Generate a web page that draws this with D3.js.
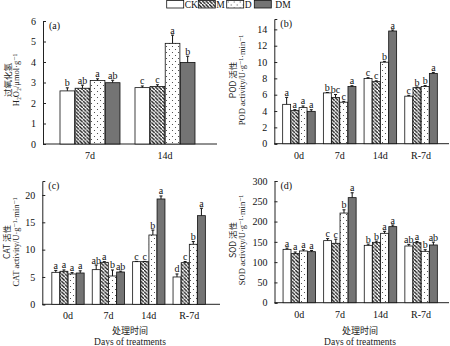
<!DOCTYPE html>
<html lang="en">
	<head>
		<meta charset="utf-8">
		<title>Antioxidant bar charts</title>
		<script type="text/javascript" src="https://cdn.jsdelivr.net/npm/d3@7"></script>
		<style type="text/css">
			body { margin: 0; background: #fff; }
			svg text { font-family: "Liberation Serif", "DejaVu Serif", serif; }
			.cn { font-family: "Noto Sans CJK SC", sans-serif; }
		</style>
	</head>
	<body>
		<script type="text/javascript">

			var w = 450;
			var h = 346;

			// treatments and sampling times
			var groups = ["CK", "M", "D", "DM"];
			var catsA = ["7d", "14d"];
			var cats = ["0d", "7d", "14d", "R-7d"];

			// (a) H2O2
			var h2o2 = [[2.59, 2.72, 3.10, 2.99], [2.75, 2.81, 4.91, 3.98]];
			var h2o2Err = [[0.15, 0.15, 0.08, 0.12], [0.08, 0.08, 0.40, 0.30]];
			var h2o2Sig = [["b", "ab", "a", "ab"], ["c", "c", "a", "b"]];

			// (b) POD
			var pod = [[4.82, 4.05, 4.42, 3.96], [6.22, 5.67, 5.08, 7.0], [7.98, 7.6, 9.98, 13.8], [5.82, 6.86, 7.0, 8.61]];
			var podErr = [[0.85, 0.12, 0.2, 0.2], [0.05, 0.35, 0.1, 0.1], [0.1, 0.1, 0.1, 0.12], [0.1, 0.08, 0.12, 0.12]];
			var podSig = [["a", "a", "a", "a"], ["b", "bc", "c", "a"], ["c", "c", "b", "a"], ["c", "b", "b", "a"]];

			// (c) CAT
			var cat = [[5.85, 6.04, 5.55, 5.73], [6.34, 7.68, 5.18, 5.91], [7.8, 7.8, 12.68, 19.27], [5.0, 7.62, 10.98, 16.22]];
			var catErr = [[0.35, 0.25, 0.25, 0.4], [0.85, 0.12, 1.1, 0.15], [0.05, 0.05, 0.9, 0.55], [0.55, 0.2, 0.5, 1.35]];
			var catSig = [["a", "a", "a", "a"], ["ab", "a", "b", "ab"], ["c", "c", "b", "a"], ["d", "c", "b", "a"]];

			// (d) SOD
			var sod = [[131.5, 121, 127.5, 125.8], [153, 146.4, 221, 259], [141.4, 148.8, 171, 187.5], [139.8, 148, 126.6, 142.3]];
			var sodErr = [[3, 4, 3, 3], [5, 10, 8, 12], [3, 3, 5, 4], [4, 3, 4, 7]];
			var sodSig = [["a", "a", "a", "a"], ["c", "c", "b", "a"], ["b", "b", "a", "a"], ["ab", "a", "b", "ab"]];

			var panels = [
				{label: "(a)", cats: catsA, vals: h2o2, err: h2o2Err, sig: h2o2Sig,
				 ax: 43, axEnd: 217, y0: 144, yTop: 21, max: 6, ticks: [0,1,2,3,4,5,6],
				 band: [52.5, 202.5], t1: "过氧化氢", t2: "H\u2082O\u2082/\u03bcmol\u00b7g\u207b\u00b9",
				 tx1: 10.5, tx2: 19, ty: 80},
				{label: "(b)", cats: cats, vals: pod, err: podErr, sig: podSig,
				 ax: 274.3, axEnd: 449, y0: 143.7, yTop: 19, max: 15.27, ticks: [0,2,4,6,8,10,12,14],
				 band: [278.6, 441.4], t1: "POD 活性", t2: "POD activity/U\u00b7g\u207b\u00b9\u00b7min\u207b\u00b9",
				 tx1: 236, tx2: 244.5, ty: 80},
				{label: "(c)", cats: cats, vals: cat, err: catErr, sig: catSig,
				 ax: 42.3, axEnd: 220, y0: 304.3, yTop: 181, max: 22.56, ticks: [0,5,10,15,20],
				 band: [47.8, 209.4], t1: "CAT 活性", t2: "CAT activity/U\u00b7g\u207b\u00b9\u00b7min\u207b\u00b9",
				 tx1: 10, tx2: 18.5, ty: 242},
				{label: "(d)", cats: cats, vals: sod, err: sodErr, sig: sodSig,
				 ax: 274.5, axEnd: 449, y0: 302.7, yTop: 181, max: 300, ticks: [0,50,100,150,200,250,300],
				 band: [279, 441.4], t1: "SOD 活性", t2: "SOD activity/U\u00b7g\u207b\u00b9\u00b7min\u207b\u00b9",
				 tx1: 236, tx2: 244.5, ty: 240}
			];

			var svg = d3.select("body")
						.append("svg")
						.attr("width", w)
						.attr("height", h);

			// fill patterns
			var defs = svg.append("defs");
			var hatch = defs.append("pattern")
				.attr("id", "hatch")
				.attr("patternUnits", "userSpaceOnUse")
				.attr("width", 3.6).attr("height", 3.6);
			hatch.append("rect").attr("width", 3.6).attr("height", 3.6).attr("fill", "#fff");
			hatch.append("path")
				.attr("d", "M-0.9,-0.9L0.9,0.9M0,0L3.6,3.6M2.7,2.7L4.5,4.5")
				.attr("stroke", "#111").attr("stroke-width", 1.3);

			var dots = defs.append("pattern")
				.attr("id", "dots")
				.attr("patternUnits", "userSpaceOnUse")
				.attr("width", 6).attr("height", 6);
			dots.append("rect").attr("width", 6).attr("height", 6).attr("fill", "#fff");
			dots.append("circle").attr("cx", 1.5).attr("cy", 1.5).attr("r", 0.55).attr("fill", "#333");
			dots.append("circle").attr("cx", 4.5).attr("cy", 4.5).attr("r", 0.55).attr("fill", "#333");

			var fills = {CK: "#fff", M: "url(#hatch)", D: "url(#dots)", DM: "#747474"};

			panels.forEach(function(p) {
				var g = svg.append("g");

				var xScale = d3.scaleBand()
					.domain(p.cats)
					.range(p.band)
					.paddingInner(0.2)
					.paddingOuter(0.1);

				var xInner = d3.scaleBand()
					.domain(groups)
					.range([0, xScale.bandwidth()])
					.paddingInner(0.03);

				var yScale = d3.scaleLinear()
					.domain([0, p.max])
					.range([p.y0, p.yTop]);

				// y axis
				var yAxis = g.append("g")
					.attr("transform", "translate(" + p.ax + ",0)")
					.call(d3.axisLeft(yScale).tickValues(p.ticks).tickSize(-3).tickPadding(7)
						.tickFormat(d3.format("d")));
				yAxis.selectAll("text").attr("font-size", 10).attr("fill", "#111")
					.style("font-family", "'Liberation Serif', serif");
				yAxis.selectAll("path,line").attr("stroke", "#222");

				// x axis line and labels
				g.append("line")
					.attr("x1", p.ax).attr("x2", p.axEnd)
					.attr("y1", p.y0).attr("y2", p.y0)
					.attr("stroke", "#222");
				g.selectAll("text.xlab")
					.data(p.cats)
					.enter()
					.append("text")
					.attr("class", "xlab")
					.attr("x", function(d) { return xScale(d) + xScale.bandwidth() / 2; })
					.attr("y", p.y0 + 15)
					.attr("text-anchor", "middle")
					.attr("font-size", 10)
					.attr("fill", "#111")
					.text(function(d) { return d; });

				// bars
				var rows = [];
				p.cats.forEach(function(c, i) {
					groups.forEach(function(gr, j) {
						rows.push({cat: c, grp: gr, v: p.vals[i][j], e: p.err[i][j], s: p.sig[i][j]});
					});
				});

				var bx = function(d) { return xScale(d.cat) + xInner(d.grp); };
				var bw = xInner.bandwidth();

				g.selectAll("rect.bar")
					.data(rows)
					.enter()
					.append("rect")
					.attr("class", "bar")
					.attr("x", bx)
					.attr("y", function(d) { return yScale(d.v); })
					.attr("width", bw)
					.attr("height", function(d) { return yScale(0) - yScale(d.v); })
					.attr("fill", function(d) { return fills[d.grp]; })
					.attr("stroke", "#111")
					.attr("stroke-width", 0.8);

				// error bars
				g.selectAll("line.err")
					.data(rows)
					.enter()
					.append("line")
					.attr("class", "err")
					.attr("x1", function(d) { return bx(d) + bw / 2; })
					.attr("x2", function(d) { return bx(d) + bw / 2; })
					.attr("y1", function(d) { return yScale(d.v); })
					.attr("y2", function(d) { return yScale(d.v + d.e); })
					.attr("stroke", "#111");
				g.selectAll("line.cap")
					.data(rows)
					.enter()
					.append("line")
					.attr("class", "cap")
					.attr("x1", function(d) { return bx(d) + bw / 2 - 1.5; })
					.attr("x2", function(d) { return bx(d) + bw / 2 + 1.5; })
					.attr("y1", function(d) { return yScale(d.v + d.e); })
					.attr("y2", function(d) { return yScale(d.v + d.e); })
					.attr("stroke", "#111");

				// significance letters
				g.selectAll("text.sig")
					.data(rows)
					.enter()
					.append("text")
					.attr("class", "sig")
					.attr("x", function(d) { return bx(d) + bw / 2; })
					.attr("y", function(d) { return yScale(d.v + d.e) - 1.5; })
					.attr("text-anchor", "middle")
					.attr("font-size", 10)
					.attr("fill", "#111")
					.text(function(d) { return d.s; });

				// panel label
				g.append("text")
					.attr("x", p.ax + 6)
					.attr("y", p.yTop + 8)
					.attr("font-size", 10)
					.attr("fill", "#111")
					.text(p.label);

				// y titles
				g.append("text")
					.attr("class", "cn")
					.attr("transform", "translate(" + p.tx1 + "," + p.ty + ") rotate(-90)")
					.attr("text-anchor", "middle")
					.attr("font-size", 8.5)
					.attr("fill", "#222")
					.text(p.t1);
				g.append("text")
					.attr("transform", "translate(" + p.tx2 + "," + p.ty + ") rotate(-90)")
					.attr("text-anchor", "middle")
					.attr("font-size", 8.5)
					.attr("fill", "#222")
					.text(p.t2);
			});

			// x titles under bottom panels
			[130, 360].forEach(function(cx) {
				svg.append("text")
					.attr("class", "cn")
					.attr("x", cx).attr("y", 334)
					.attr("text-anchor", "middle")
					.attr("font-size", 9)
					.attr("fill", "#222")
					.text("处理时间");
				svg.append("text")
					.attr("x", cx).attr("y", 345)
					.attr("text-anchor", "middle")
					.attr("font-size", 9.5)
					.attr("fill", "#222")
					.text("Days of treatments");
			});

			// legend
			var legX = [166.7, 198.3, 226.7, 254.3];
			var legend = svg.selectAll("g.leg")
				.data(groups)
				.enter()
				.append("g")
				.attr("class", "leg")
				.attr("transform", function(d, i) { return "translate(" + legX[i] + ",0.5)"; });
			legend.append("rect")
				.attr("width", 17)
				.attr("height", 7.5)
				.attr("fill", function(d) { return fills[d]; })
				.attr("stroke", "#111")
				.attr("stroke-width", 0.8);
			legend.append("text")
				.attr("x", function(d) { return d === "DM" ? 21 : 18; })
				.attr("y", 7.5)
				.attr("font-size", 9.5)
				.attr("fill", "#111")
				.text(function(d) { return d; });

		</script>
	</body>
</html>
